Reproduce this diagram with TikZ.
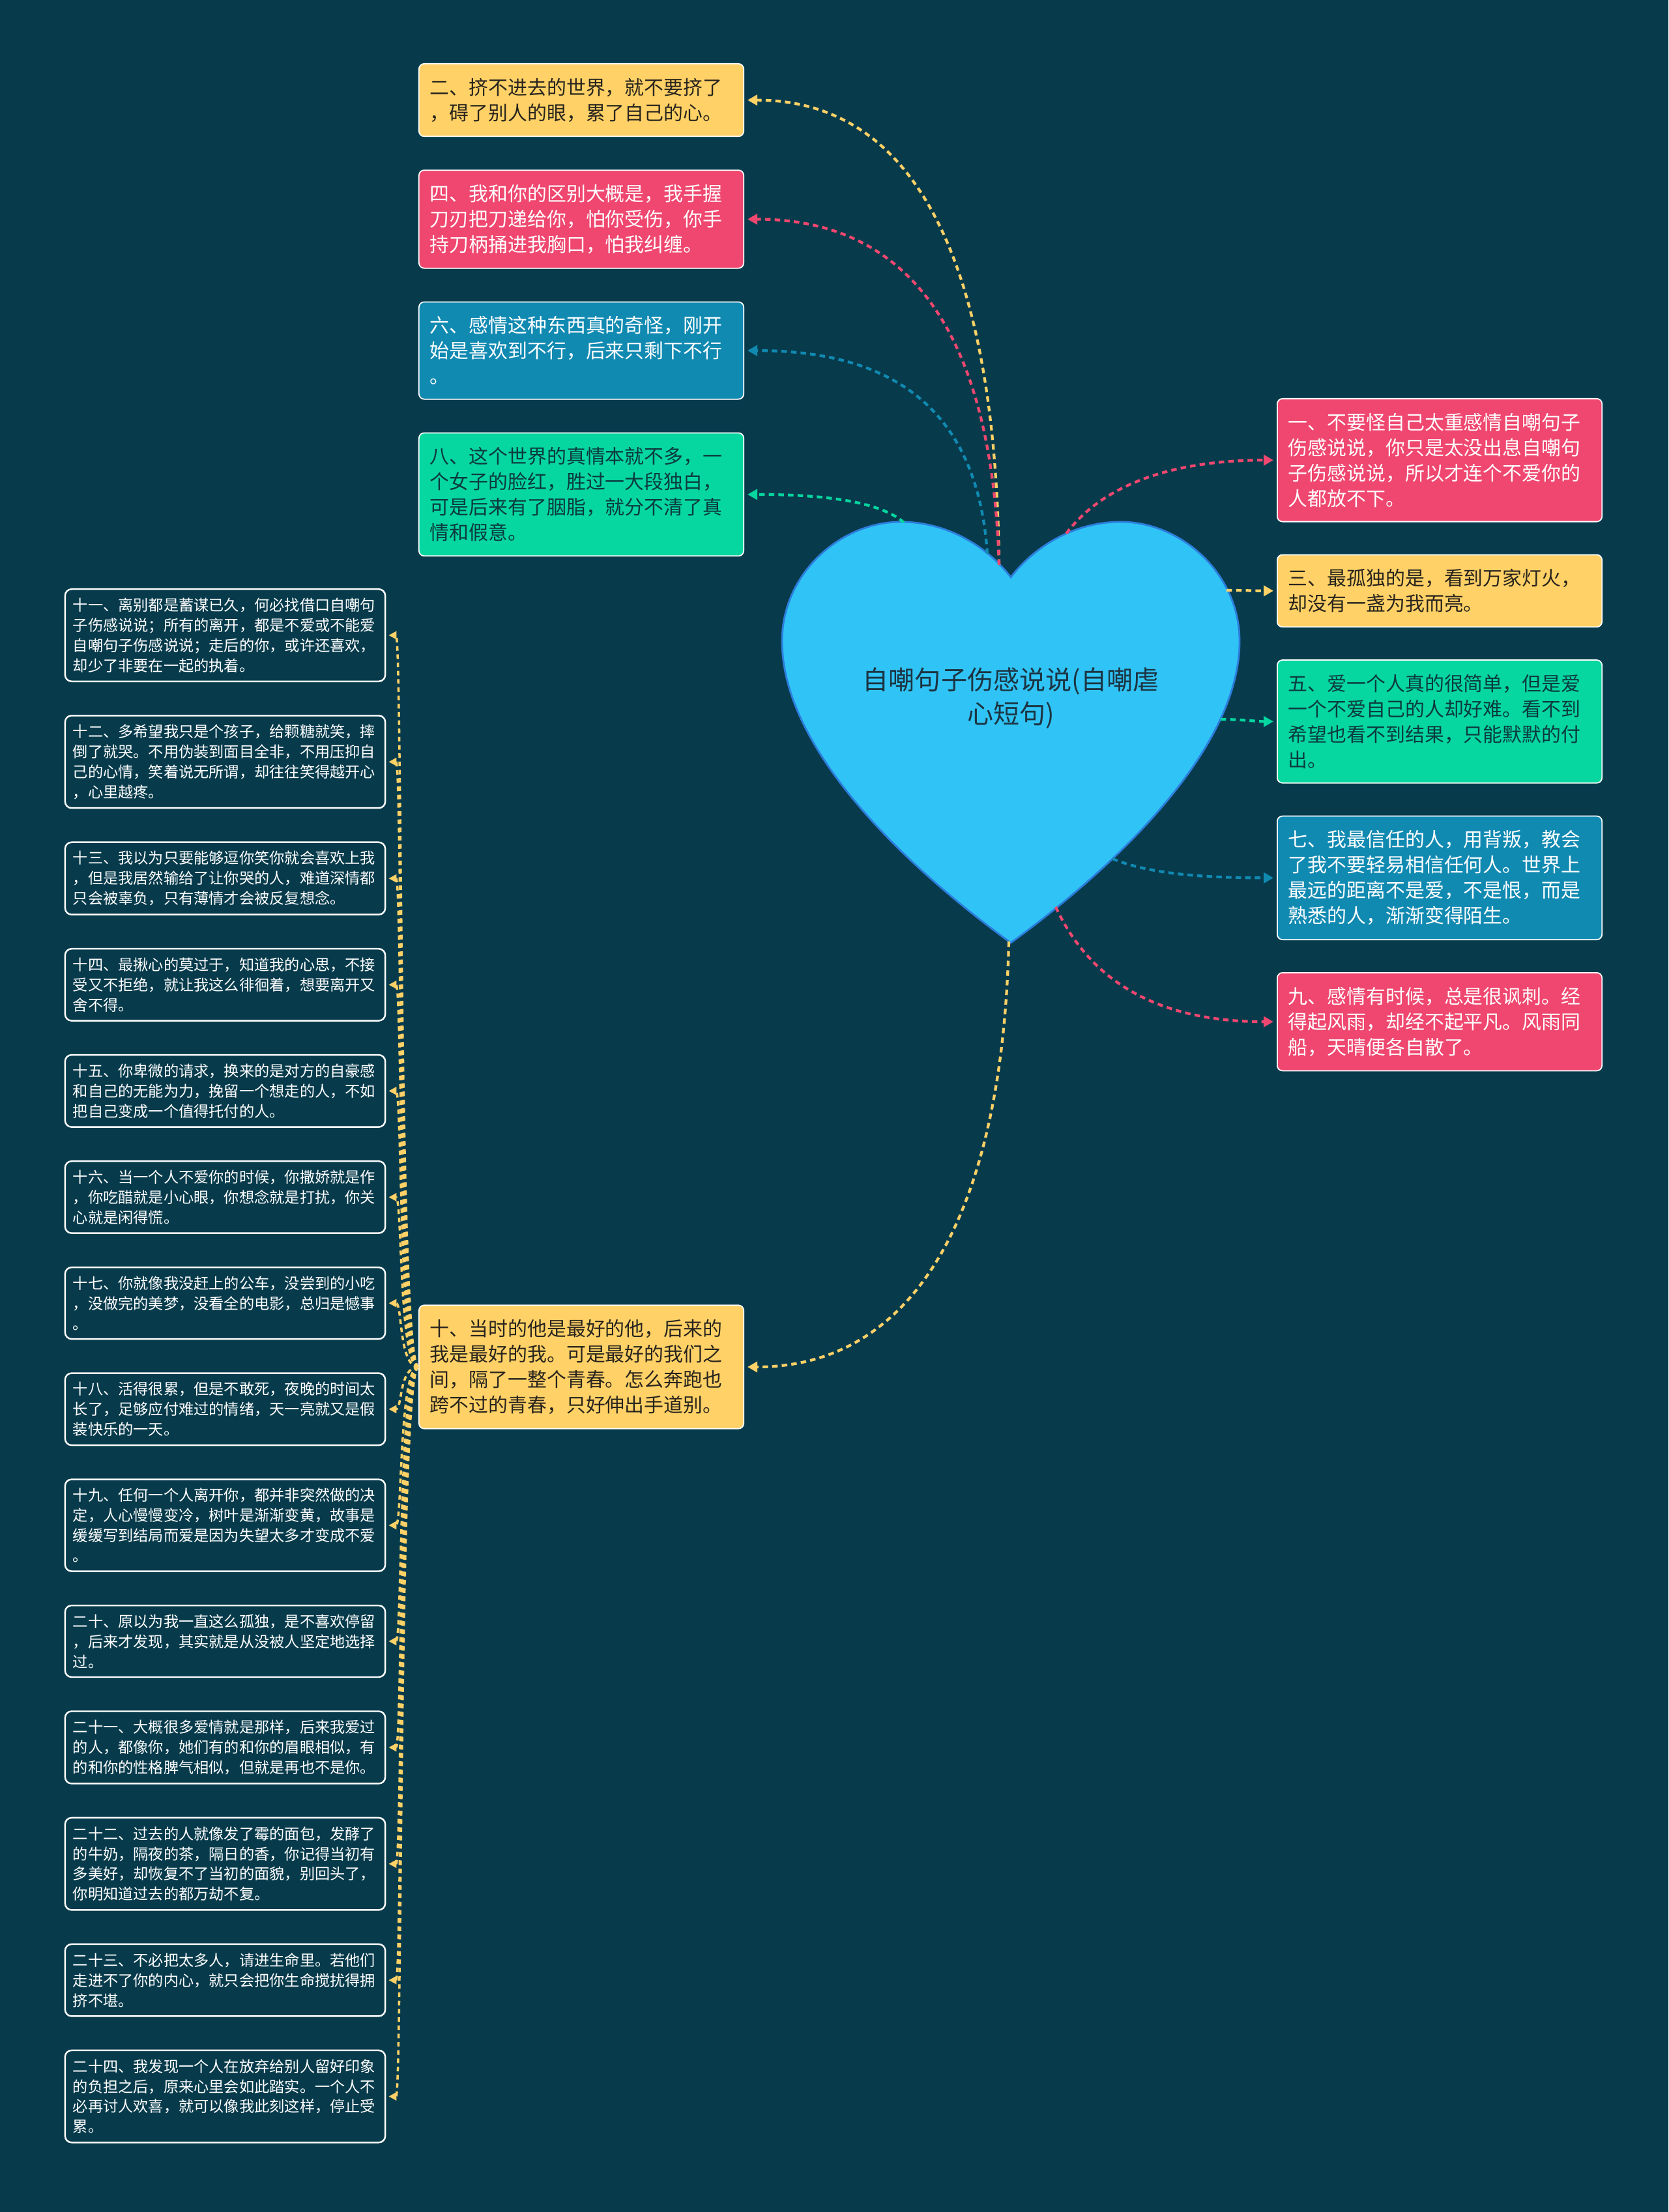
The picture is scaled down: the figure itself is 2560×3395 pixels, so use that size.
\documentclass[tikz,border=0pt]{standalone}
\usepackage{fontspec}
\setmainfont{Noto Sans CJK SC}
\usetikzlibrary{
    arrows.meta,
    positioning
}
\definecolor{DeepTeal}{RGB}{7,59,76}
\definecolor{Sun}{RGB}{255,209,102}
\definecolor{Rose}{RGB}{239,71,111}
\definecolor{Ocean}{RGB}{17,138,178}
\definecolor{Mint}{RGB}{6,214,160}
\definecolor{HeartBlue}{RGB}{48,196,246}
\definecolor{HeartEdge}{RGB}{45,125,220}
\definecolor{InkDark}{RGB}{40,36,30}
\definecolor{InkTeal}{RGB}{12,58,62}
\definecolor{HeartInk}{RGB}{28,52,66}

\begin{document}
\begin{tikzpicture}[
    x=0.01cm,
    y=-0.01cm,
    >={Triangle[length=0.15cm,width=0.16cm]},
    quote/.style={draw=white, line width=0.5pt, rounded corners=0.08cm,
        text width=4.64cm, inner xsep=0.17cm, inner ysep=0.22cm, align=left,
        font=\fontsize{8.5pt}{11.1pt}\selectfont},
    memo/.style={draw=white, line width=0.7pt, fill=DeepTeal, text=white,
        rounded corners=0.1cm, text width=4.67cm, inner xsep=0.12cm,
        inner ysep=0.135cm, align=left, font=\fontsize{6.6pt}{8.8pt}\selectfont},
    link/.style={->, line width=1.2pt, dash pattern=on 2.4pt off 1.8pt,
        shorten >=0.05cm},
    twig/.style={->, draw=Sun, line width=1pt, dash pattern=on 2pt off 1.6pt,
        shorten >=0.04cm, >={Triangle[length=0.12cm,width=0.12cm]}}
]

\fill[DeepTeal] (0,0) rectangle (2560,3395);

\draw[fill=HeartBlue, draw=HeartEdge, line width=0.8pt]
    (1551,1447) .. controls (1390,1330) and (1200,1150) .. (1200,984)
    .. controls (1200,880) and (1290,801) .. (1382,801)
    .. controls (1460,801) and (1520,845) .. (1551,886)
    .. controls (1582,845) and (1642,801) .. (1720,801)
    .. controls (1812,801) and (1902,880) .. (1902,984)
    .. controls (1902,1150) and (1712,1330) .. (1551,1447) -- cycle;

\node[
    text=HeartInk,
    align=center,
    font=\fontsize{11.4pt}{14.8pt}\selectfont
] (root) at (1551,1072) {自嘲句子伤感说说(自嘲虐\\心短句)};

\coordinate (dip) at (1533,867);
\coordinate (dipb) at (1515,850);
\coordinate (lobeL) at (1387,802);
\coordinate (lobeR) at (1636,819);
\coordinate (sideR) at (1882,906);
\coordinate (waistR) at (1873,1104);
\coordinate (flankR) at (1707,1318);
\coordinate (lowR) at (1620,1392);
\coordinate (tip) at (1548,1445);

\node[quote, fill=Sun, text=InkDark, anchor=north] (n2) at (892,97)
    {二、挤不进去的世界，就不要挤了\\，碍了别人的眼，累了自己的心。};
\node[quote, fill=Rose, text=white, below=0.5cm of n2] (n4)
    {四、我和你的区别大概是，我手握\\刀刃把刀递给你，怕你受伤，你手\\持刀柄捅进我胸口，怕我纠缠。};
\node[quote, fill=Ocean, text=white, below=0.5cm of n4] (n6)
    {六、感情这种东西真的奇怪，刚开\\始是喜欢到不行，后来只剩下不行\\。};
\node[quote, fill=Mint, text=InkTeal, below=0.5cm of n6] (n8)
    {八、这个世界的真情本就不多，一\\个女子的脸红，胜过一大段独白，\\可是后来有了胭脂，就分不清了真\\情和假意。};
\node[quote, fill=Sun, text=InkDark] (n10) at (892,2098)
    {十、当时的他是最好的他，后来的\\我是最好的我。可是最好的我们之\\间，隔了一整个青春。怎么奔跑也\\跨不过的青春，只好伸出手道别。};

\node[quote, fill=Rose, text=white, anchor=north] (n1) at (2209,611)
    {一、不要怪自己太重感情自嘲句子\\伤感说说，你只是太没出息自嘲句\\子伤感说说，所以才连个不爱你的\\人都放不下。};
\node[quote, fill=Sun, text=InkDark, below=0.49cm of n1] (n3)
    {三、最孤独的是，看到万家灯火，\\却没有一盏为我而亮。};
\node[quote, fill=Mint, text=InkTeal, below=0.49cm of n3] (n5)
    {五、爱一个人真的很简单，但是爱\\一个不爱自己的人却好难。看不到\\希望也看不到结果，只能默默的付\\出。};
\node[quote, fill=Ocean, text=white, below=0.49cm of n5] (n7)
    {七、我最信任的人，用背叛，教会\\了我不要轻易相信任何人。世界上\\最远的距离不是爱，不是恨，而是\\熟悉的人，渐渐变得陌生。};
\node[quote, fill=Rose, text=white, below=0.49cm of n7] (n9)
    {九、感情有时候，总是很讽刺。经\\得起风雨，却经不起平凡。风雨同\\船，天晴便各自散了。};

\node[memo, anchor=north] (n11) at (345.5,903)
    {十一、离别都是蓄谋已久，何必找借口自嘲句\\子伤感说说；所有的离开，都是不爱或不能爱\\自嘲句子伤感说说；走后的你，或许还喜欢，\\却少了非要在一起的执着。};
\node[memo, below=0.5cm of n11] (n12)
    {十二、多希望我只是个孩子，给颗糖就笑，摔\\倒了就哭。不用伪装到面目全非，不用压抑自\\己的心情，笑着说无所谓，却往往笑得越开心\\，心里越疼。};
\node[memo, below=0.5cm of n12] (n13)
    {十三、我以为只要能够逗你笑你就会喜欢上我\\，但是我居然输给了让你哭的人，难道深情都\\只会被辜负，只有薄情才会被反复想念。};
\node[memo, below=0.5cm of n13] (n14)
    {十四、最揪心的莫过于，知道我的心思，不接\\受又不拒绝，就让我这么徘徊着，想要离开又\\舍不得。};
\node[memo, below=0.5cm of n14] (n15)
    {十五、你卑微的请求，换来的是对方的自豪感\\和自己的无能为力，挽留一个想走的人，不如\\把自己变成一个值得托付的人。};
\node[memo, below=0.5cm of n15] (n16)
    {十六、当一个人不爱你的时候，你撒娇就是作\\，你吃醋就是小心眼，你想念就是打扰，你关\\心就是闲得慌。};
\node[memo, below=0.5cm of n16] (n17)
    {十七、你就像我没赶上的公车，没尝到的小吃\\，没做完的美梦，没看全的电影，总归是憾事\\。};
\node[memo, below=0.5cm of n17] (n18)
    {十八、活得很累，但是不敢死，夜晚的时间太\\长了，足够应付难过的情绪，天一亮就又是假\\装快乐的一天。};
\node[memo, below=0.5cm of n18] (n19)
    {十九、任何一个人离开你，都并非突然做的决\\定，人心慢慢变冷，树叶是渐渐变黄，故事是\\缓缓写到结局而爱是因为失望太多才变成不爱\\。};
\node[memo, below=0.5cm of n19] (n20)
    {二十、原以为我一直这么孤独，是不喜欢停留\\，后来才发现，其实就是从没被人坚定地选择\\过。};
\node[memo, below=0.5cm of n20] (n21)
    {二十一、大概很多爱情就是那样，后来我爱过\\的人，都像你，她们有的和你的眉眼相似，有\\的和你的性格脾气相似，但就是再也不是你。};
\node[memo, below=0.5cm of n21] (n22)
    {二十二、过去的人就像发了霉的面包，发酵了\\的牛奶，隔夜的茶，隔日的香，你记得当初有\\多美好，却恢复不了当初的面貌，别回头了，\\你明知道过去的都万劫不复。};
\node[memo, below=0.5cm of n22] (n23)
    {二十三、不必把太多人，请进生命里。若他们\\走进不了你的内心，就只会把你生命搅扰得拥\\挤不堪。};
\node[memo, below=0.5cm of n23] (n24)
    {二十四、我发现一个人在放弃给别人留好印象\\的负担之后，原来心里会如此踏实。一个人不\\必再讨人欢喜，就可以像我此刻这样，停止受\\累。};

\draw[link, Sun] (dip) .. controls +(-5,-470) and +(260,0) .. (n2.east);
\draw[link, Rose] (dip) .. controls +(-10,-330) and +(270,0) .. (n4.east);
\draw[link, Ocean] (dipb) .. controls +(-15,-220) and +(230,0) .. (n6.east);
\draw[link, Mint] (lobeL) .. controls +(-40,-35) and +(110,0) .. (n8.east);
\draw[link, Sun] (tip) .. controls +(-10,420) and +(260,0) .. (n10.east);

\draw[link, Rose] (lobeR) .. controls +(60,-80) and +(-150,0) .. (n1.west);
\draw[link, Sun] (sideR) .. controls +(30,0) and +(-30,0) .. (n3.west);
\draw[link, Mint] (waistR) .. controls +(30,0) and +(-30,0) .. (n5.west);
\draw[link, Ocean] (flankR) .. controls +(60,25) and +(-100,0) .. (n7.west);
\draw[link, Rose] (lowR) .. controls +(60,130) and +(-160,0) .. (n9.west);

\foreach \k in {11,...,24}
    \draw[twig] (n10.west) .. controls +(-30,0) and +(25,0) .. (n\k.east);

\end{tikzpicture}
\end{document}
